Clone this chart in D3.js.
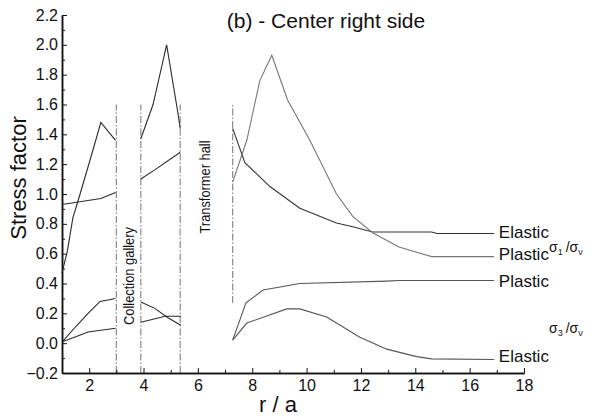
<!DOCTYPE html>
<html lang="en">
<head>
  <meta charset="UTF-8">
  <title>Stress factor - center right side</title>
  <script src="https://cdn.jsdelivr.net/npm/d3@7"></script>
  <style>
    body { margin: 0; background: #fff; }
    text { font-family: Arial, "Liberation Sans", sans-serif; fill: #111; }
  </style>
</head>
<body>
  <div id="container"></div>
  <script>
    // [r/a, stress factor]
    var s1LeftA = [[1, 0.47], [1.2, 0.62], [1.4, 0.84], [1.6, 0.96], [2.1, 1.27], [2.43, 1.48], [2.97, 1.36]];
    var s1LeftB = [[1, 0.93], [2.43, 0.97], [2.97, 1.01]];
    var s3LeftA = [[1.02, 0.01], [1.5, 0.11], [1.96, 0.2], [2.4, 0.28], [2.97, 0.3]];
    var s3LeftB = [[1.02, 0.01], [1.96, 0.075], [2.97, 0.1]];
    var s1MidA = [[3.9, 1.37], [4.35, 1.6], [4.85, 2.0], [5.25, 1.56], [5.35, 1.44]];
    var s1MidB = [[3.9, 1.1], [4.4, 1.16], [5.35, 1.28]];
    var s3MidA = [[3.9, 0.276], [4.4, 0.235], [4.9, 0.17], [5.37, 0.12]];
    var s3MidB = [[3.9, 0.14], [4.8, 0.18], [5.37, 0.18]];
    var s1Elastic = [[7.28, 1.44], [7.73, 1.21], [8.65, 1.05], [9.75, 0.905], [11.1, 0.805], [11.7, 0.78], [12.43, 0.745], [14.6, 0.745], [14.8, 0.735], [16.9, 0.735]];
    var s1Plastic = [[7.28, 1.08], [7.8, 1.36], [8.28, 1.76], [8.72, 1.93], [9.3, 1.63], [10.12, 1.36], [11.1, 1.0], [11.7, 0.85], [12.43, 0.74], [13.4, 0.645], [14.6, 0.58], [16.9, 0.58]];
    var s3Plastic = [[7.28, 0.02], [7.77, 0.27], [8.4, 0.356], [9.75, 0.4], [12.95, 0.416], [13.4, 0.42], [16.9, 0.42]];
    var s3Elastic = [[7.28, 0.02], [7.8, 0.135], [9.27, 0.23], [9.75, 0.23], [10.74, 0.175], [11.96, 0.04], [12.95, -0.04], [14.05, -0.09], [14.6, -0.105], [16.9, -0.11]];

    // cavern walls: [r/a, from, to]
    var walls = [[3, -0.2, 1.6], [3.9, -0.2, 1.6], [5.35, -0.2, 1.6], [7.28, 0.27, 1.6]];

    var xTicks = [2, 4, 6, 8, 10, 12, 14, 16, 18];
    var xMinor = [1, 3, 5, 7, 9, 11, 13, 15, 17];
    var yTicks = [-0.2, 0, 0.2, 0.4, 0.6, 0.8, 1.0, 1.2, 1.4, 1.6, 1.8, 2.0, 2.2];
    var yMinor = [-0.1, 0.1, 0.3, 0.5, 0.7, 0.9, 1.1, 1.3, 1.5, 1.7, 1.9, 2.1];

    var width = 600, height = 418;

    var svg = d3.select("#container")
      .append("svg")
      .attr("width", width)
      .attr("height", height);

    var x = d3.scaleLinear().domain([1, 18]).range([62, 524]);
    var y = d3.scaleLinear().domain([-0.2, 2.2]).range([373, 15]);

    // walls (dash-dot)
    svg.selectAll(".wall")
      .data(walls)
      .enter()
      .append("line")
      .attr("class", "wall")
      .attr("x1", d => x(d[0])).attr("x2", d => x(d[0]))
      .attr("y1", d => y(d[1])).attr("y2", d => y(d[2]))
      .attr("stroke", "#8a8a8a")
      .attr("stroke-width", 1.2)
      .attr("stroke-dasharray", "7,2,1.5,2");

    // axes, ticks inward
    var xAxis = svg.append("g")
      .attr("transform", "translate(0,373)")
      .call(d3.axisBottom(x).tickValues(xTicks).tickSize(-5).tickSizeOuter(0).tickPadding(7).tickFormat(d3.format("d")));
    svg.append("g")
      .attr("transform", "translate(0,373)")
      .call(d3.axisBottom(x).tickValues(xMinor).tickSize(-3).tickSizeOuter(0).tickFormat(""));

    var yAxis = svg.append("g")
      .attr("transform", "translate(62,0)")
      .call(d3.axisLeft(y).tickValues(yTicks).tickSize(-5).tickSizeOuter(0).tickPadding(4).tickFormat(d3.format(".1f")));
    svg.append("g")
      .attr("transform", "translate(62,0)")
      .call(d3.axisLeft(y).tickValues(yMinor).tickSize(-3).tickSizeOuter(0).tickFormat(""));

    svg.selectAll(".domain").attr("stroke", "#111").attr("stroke-width", 1.5);
    svg.selectAll(".tick line").attr("stroke", "#111");
    svg.selectAll(".tick text").attr("font-size", 16).attr("fill", "#111")
      .attr("font-family", "Arial, 'Liberation Sans', sans-serif");

    // curves
    var line = d3.line().x(d => x(d[0])).y(d => y(d[1]));
    var curves = [
      [s1LeftA, "#2a2a2a"], [s1LeftB, "#2a2a2a"], [s3LeftA, "#2a2a2a"], [s3LeftB, "#2a2a2a"],
      [s1MidA, "#2a2a2a"], [s1MidB, "#2a2a2a"], [s3MidA, "#2a2a2a"], [s3MidB, "#2a2a2a"],
      [s1Elastic, "#333"], [s1Plastic, "#777"], [s3Plastic, "#555"], [s3Elastic, "#555"]
    ];
    svg.selectAll(".curve")
      .data(curves)
      .enter()
      .append("path")
      .attr("class", "curve")
      .attr("d", d => line(d[0]))
      .attr("fill", "none")
      .attr("stroke", d => d[1])
      .attr("stroke-width", 1.1);

    // titles
    svg.append("text")
      .attr("x", 326).attr("y", 28)
      .attr("text-anchor", "middle")
      .attr("font-size", 21)
      .text("(b) - Center right side");

    svg.append("text")
      .attr("transform", "translate(26,178) rotate(-90)")
      .attr("text-anchor", "middle")
      .attr("font-size", 22)
      .text("Stress  factor");

    svg.append("text")
      .attr("x", 278).attr("y", 412)
      .attr("text-anchor", "middle")
      .attr("font-size", 22)
      .text("r / a");

    // rotated room names
    svg.append("text")
      .attr("transform", "translate(" + (x(3.45) + 5) + "," + 276 + ") rotate(-90)")
      .attr("text-anchor", "middle")
      .attr("font-family", "'Liberation Sans Narrow', 'Arial Narrow', Arial, sans-serif")
      .attr("font-size", 15)
      .attr("textLength", 98).attr("lengthAdjust", "spacingAndGlyphs")
      .text("Collection gallery");

    svg.append("text")
      .attr("transform", "translate(" + 210 + "," + 187 + ") rotate(-90)")
      .attr("text-anchor", "middle")
      .attr("font-family", "'Liberation Sans Narrow', 'Arial Narrow', Arial, sans-serif")
      .attr("font-size", 15)
      .attr("textLength", 93).attr("lengthAdjust", "spacingAndGlyphs")
      .text("Transformer hall");

    // curve labels on the right
    var lx = x(17) + 2;
    var labels = [["Elastic", 238], ["Plastic", 260], ["Plastic", 287], ["Elastic", 362]];
    svg.selectAll(".clabel")
      .data(labels)
      .enter()
      .append("text")
      .attr("class", "clabel")
      .attr("x", lx).attr("y", d => d[1])
      .attr("font-size", 17)
      .text(d => d[0]);

    function sigmaRatio(px, py, sub) {
      var t = svg.append("text").attr("x", px).attr("y", py).attr("font-size", 14);
      t.append("tspan").text("\u03c3");
      t.append("tspan").attr("dy", 3).attr("font-size", 9).text(sub);
      t.append("tspan").attr("dy", -3).attr("dx", 3).text("/\u03c3");
      t.append("tspan").attr("dy", 3).attr("font-size", 9).text("\u03bd");
    }
    sigmaRatio(549, 252, "1");
    sigmaRatio(549, 333, "3");
  </script>
</body>
</html>
